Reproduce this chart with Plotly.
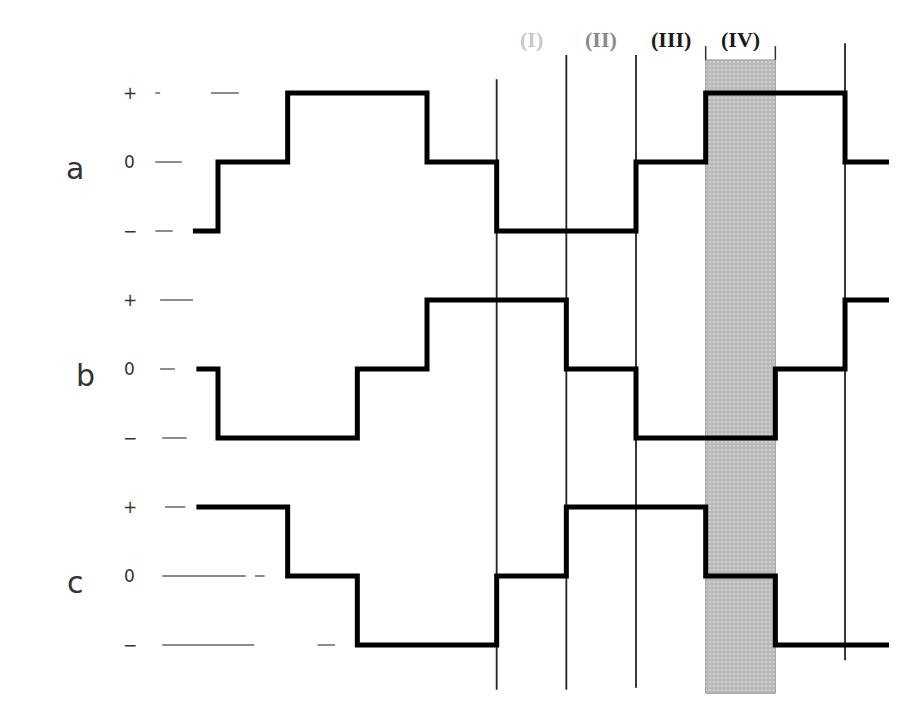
import plotly.graph_objects as go

# time axis: one unit = one sixth of the period (one inverter step)
t_edges = [0, 1, 2, 3, 4, 5, 6, 7, 8, 9]
t_end = 9.8
phase_names = ["a", "b", "c"]
phase_start = [-0.36, -0.31, -0.31]
phase_offset = [0, -3, -6]
# level in each interval (start..0, 0..1, ..., 9..end)
a_levels = [-1, 0, 1, 1, 0, -1, -1, 0, 1, 1, 0]
b_levels = [0, -1, -1, 0, 1, 1, 0, -1, -1, 0, 1]
c_levels = [1, 1, 0, -1, -1, 0, 1, 1, 0, -1, -1]
levels = [a_levels, b_levels, c_levels]

level_marks = ["+", "0", "\u2212"]
level_values = [1, 0, -1]

# vertical markers (instants) and their vertical extent
marker_t = [4, 5, 6, 9]
marker_top = [1.2, 1.55, 1.55, 1.72]
marker_bot = [-7.65, -7.65, -7.62, -7.22]

# interval labels
interval_t = [4.5, 5.5, 6.5, 7.5]
interval_text = ["(I)", "(II)", "(III)", "(IV)"]
interval_col = ["#c8c8c8", "#8a8a8a", "#1a1a1a", "#1a1a1a"]

# highlighted interval (IV)
shade_t = [7, 8]
shade_y = [1.48, -7.70]

# guide dashes in front of the waveforms: (phase, level, t0, t1)
guides = [
    (0, 1, -0.90, -0.83), (0, 1, -0.10, 0.30),
    (0, 0, -0.90, -0.52),
    (0, -1, -0.90, -0.65),
    (1, 1, -0.83, -0.36),
    (1, 0, -0.83, -0.62),
    (1, -1, -0.80, -0.45),
    (2, 1, -0.76, -0.47),
    (2, 0, -0.80, 0.40), (2, 0, 0.53, 0.67),
    (2, -1, -0.80, 0.52), (2, -1, 1.43, 1.68),
]

fig = go.Figure()

# shaded interval
fig.add_trace(go.Scatter(
    x=[shade_t[0], shade_t[1], shade_t[1], shade_t[0], shade_t[0]],
    y=[shade_y[0], shade_y[0], shade_y[1], shade_y[1], shade_y[0]],
    mode="lines", fill="toself",
    fillcolor="#c2c2c2",
    fillpattern=dict(shape=".", bgcolor="#b8b8b8", fgcolor="#e6e6e6",
                     size=4, solidity=0.35),
    line=dict(color="#9a9a9a", width=1),
    hoverinfo="skip"))
for tt in shade_t:
    fig.add_trace(go.Scatter(x=[tt, tt], y=[1.68, shade_y[0]], mode="lines",
                             line=dict(color="#333", width=1.5),
                             hoverinfo="skip"))

# vertical instant markers
for tt, y0, y1 in zip(marker_t, marker_top, marker_bot):
    fig.add_trace(go.Scatter(x=[tt, tt], y=[y0, y1], mode="lines",
                             line=dict(color="#222", width=1.8),
                             hoverinfo="skip"))

# guide dashes
for ph, lv, t0, t1 in guides:
    yy = phase_offset[ph] + lv
    fig.add_trace(go.Scatter(x=[t0, t1], y=[yy, yy], mode="lines",
                             line=dict(color="#8c8c8c", width=2),
                             hoverinfo="skip"))

# waveforms
for name, st, off, lv in zip(phase_names, phase_start, phase_offset, levels):
    xs = [st] + t_edges + [t_end]
    ys = [off + v for v in lv] + [off + lv[-1]]
    fig.add_trace(go.Scatter(x=xs, y=ys, mode="lines", line_shape="hv",
                             line=dict(color="#000", width=5),
                             name=name, hoverinfo="skip"))

# phase names and level marks
label_x = [-2.05, -1.90, -2.05]
for name, off, lx in zip(phase_names, phase_offset, label_x):
    fig.add_annotation(x=lx, y=off - 0.1, text=name, showarrow=False,
                       font=dict(family="DejaVu Sans", size=30, color="#333"))
    for mk, lv in zip(level_marks, level_values):
        fig.add_annotation(x=-1.27, y=off + lv, text=mk, showarrow=False,
                           font=dict(family="DejaVu Sans", size=17, color="#333"))

for tt, txt, col in zip(interval_t, interval_text, interval_col):
    fig.add_annotation(x=tt, y=1.78, text="<b>" + txt + "</b>", showarrow=False,
                       font=dict(family="Liberation Serif", size=22, color=col))

# page has an 8px body margin, so the figure is 8px smaller each way
fig.update_layout(
    width=889, height=694,
    margin=dict(l=0, r=0, t=0, b=0),
    paper_bgcolor="white", plot_bgcolor="white",
    showlegend=False,
    xaxis=dict(range=[-3.014, 9.746], visible=False, fixedrange=True),
    yaxis=dict(range=[-7.826, 2.232], visible=False, fixedrange=True),
)

fig.write_html("out.html")
